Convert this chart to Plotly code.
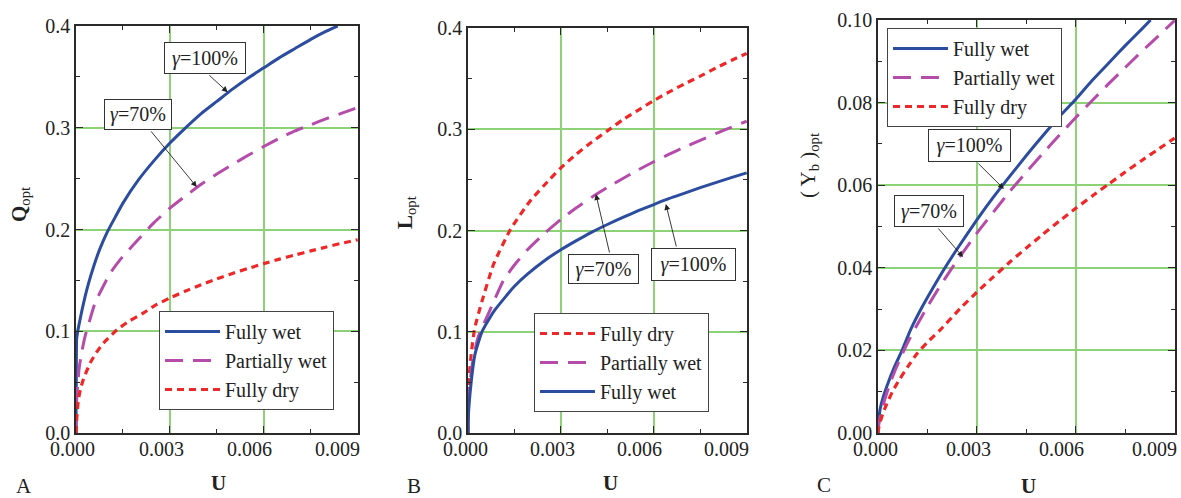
import plotly.graph_objects as go

# ---------------- data ----------------
# Panel A : Q_opt vs U
A_wet_U = [0, 0.00001, 0.00002, 0.00005, 0.000106, 0.0002, 0.00029, 0.0004, 0.000556, 0.00075, 0.00099,
           0.00125, 0.0015, 0.002, 0.0025, 0.003, 0.0035, 0.004, 0.0045, 0.005, 0.0055, 0.006, 0.0065,
           0.007, 0.0075, 0.008, 0.00836]
A_wet_Q = [0, 0.06, 0.092, 0.099, 0.108, 0.122, 0.134, 0.147, 0.163, 0.18, 0.197,
           0.212, 0.226, 0.249, 0.268, 0.285, 0.300, 0.314, 0.326, 0.338, 0.349, 0.359, 0.369,
           0.378, 0.387, 0.395, 0.4]
A_part_U = [0, 0.000005, 0.00002, 0.00005, 0.000106, 0.0002, 0.00029, 0.00045, 0.00061, 0.00085, 0.00109,
            0.0014, 0.00179, 0.0025, 0.003, 0.0035, 0.004, 0.0045, 0.005, 0.0055, 0.006, 0.0065,
            0.007, 0.0075, 0.008, 0.0085, 0.009]
A_part_Q = [0, 0.013, 0.0325, 0.046, 0.065, 0.082, 0.095, 0.112, 0.128, 0.143, 0.157,
            0.17, 0.1835, 0.207, 0.221, 0.233, 0.2445, 0.2545, 0.264, 0.273, 0.2816, 0.2897,
            0.297, 0.303, 0.309, 0.3145, 0.32]
A_dry_U = [0, 0.000005, 0.00002, 0.000074, 0.00015, 0.00023, 0.00045, 0.00065, 0.00088, 0.00131, 0.0017,
           0.00216, 0.0025, 0.003, 0.0035, 0.004, 0.0045, 0.005, 0.0055, 0.006, 0.0065, 0.007,
           0.0075, 0.008, 0.0085, 0.009]
A_dry_Q = [0, 0.005, 0.0128, 0.0325, 0.044, 0.0522, 0.0687, 0.079, 0.0884, 0.1015, 0.11,
           0.118, 0.125, 0.1327, 0.1396, 0.1457, 0.1515, 0.1569, 0.1618, 0.1665, 0.1709, 0.175,
           0.179, 0.1829, 0.1866, 0.19]

# Panel B : L_opt vs U
B_dry_U = [0, 0.000005, 0.00003, 0.00011, 0.00022, 0.00045, 0.00083, 0.00137, 0.002, 0.00262, 0.003,
           0.0035, 0.004, 0.0045, 0.005, 0.0055, 0.006, 0.0065, 0.007, 0.0075, 0.008, 0.0085, 0.009]
B_dry_L = [0, 0.03, 0.0524, 0.08, 0.104, 0.13, 0.167, 0.201, 0.229, 0.25, 0.262,
           0.2755, 0.2875, 0.2985, 0.3095, 0.319, 0.3285, 0.337, 0.345, 0.3525, 0.3605, 0.368, 0.375]
B_part_U = [0, 0.000005, 0.00001, 0.00005, 0.00016, 0.00033, 0.00071, 0.00115, 0.0015, 0.00192, 0.0025,
            0.003, 0.0035, 0.004, 0.0045, 0.005, 0.0055, 0.006, 0.0065, 0.007, 0.0075, 0.008, 0.0085, 0.009]
B_part_L = [0, 0.016, 0.026, 0.046, 0.072, 0.095, 0.1215, 0.151, 0.166, 0.181, 0.198,
            0.211, 0.2225, 0.233, 0.2425, 0.2515, 0.26, 0.268, 0.2755, 0.2825, 0.289, 0.2957, 0.302, 0.308]
B_wet_U = [0, 0.00001, 0.00003, 0.00011, 0.00022, 0.00045, 0.00083, 0.00125, 0.0015, 0.00192, 0.0025,
           0.003, 0.0035, 0.004, 0.0045, 0.005, 0.0055, 0.006, 0.0065, 0.007, 0.0075, 0.008, 0.0085, 0.009]
B_wet_L = [0, 0.015, 0.026, 0.0524, 0.077, 0.1, 0.12, 0.136, 0.145, 0.157, 0.171,
           0.181, 0.19, 0.1985, 0.206, 0.213, 0.2196, 0.2257, 0.2317, 0.237, 0.2424, 0.2474, 0.2523, 0.257]

# Panel C : (Y_b)_opt vs U
C_wet_U = [0, 0.00002, 0.00006, 0.00015, 0.0003, 0.0005, 0.00073, 0.001, 0.00135, 0.00167, 0.002, 0.00242,
           0.003, 0.0035, 0.004, 0.0045, 0.005, 0.0055, 0.006, 0.0065, 0.007, 0.0075, 0.008, 0.00827]
C_wet_Y = [0, 0.0025, 0.0056, 0.0085, 0.012, 0.016, 0.020, 0.0252, 0.0307, 0.0352, 0.0396, 0.0448,
           0.0516, 0.0571, 0.0622, 0.0672, 0.072, 0.0766, 0.0808, 0.0854, 0.0896, 0.0938, 0.0978, 0.1]
C_part_U = [0, 0.00002, 0.00006, 0.0002, 0.0004, 0.00064, 0.0009, 0.00118, 0.0015, 0.00179, 0.002, 0.00242,
            0.003, 0.0035, 0.004, 0.0045, 0.005, 0.0055, 0.006, 0.0065, 0.007, 0.0075, 0.008, 0.0085, 0.009]
C_part_Y = [0, 0.0018, 0.0037, 0.008, 0.0128, 0.0174, 0.0219, 0.0261, 0.0306, 0.0344, 0.037, 0.042,
            0.0484, 0.0535, 0.0585, 0.0632, 0.0677, 0.0721, 0.0764, 0.0805, 0.0846, 0.0885, 0.0924, 0.0961, 0.0999]
C_dry_U = [0, 0.00002, 0.00006, 0.00015, 0.00027, 0.00045, 0.00067, 0.0009, 0.00118, 0.0015, 0.00188, 0.0025,
           0.003, 0.0035, 0.004, 0.0045, 0.005, 0.0055, 0.006, 0.0065, 0.007, 0.0075, 0.008, 0.0085, 0.009]
C_dry_Y = [0, 0.0012, 0.0025, 0.0048, 0.0071, 0.0102, 0.0132, 0.016, 0.0192, 0.022, 0.0249, 0.0302,
           0.0341, 0.0378, 0.0414, 0.0448, 0.0481, 0.0513, 0.0544, 0.0574, 0.0603, 0.0632, 0.066, 0.0687, 0.0714]

x_ticks = [0.0, 0.003, 0.006, 0.009]
x_tick_text = ["0.000", "0.003", "0.006", "0.009"]

# ---------------- style ----------------
FONT = "Liberation Serif"
BLUE = "#2b4c9f"
MAG = "#b54ca9"
RED = "#ee2828"
GRID = "#8ed277"
AXC = "#2a2a2a"

styles = {
    "Fully wet": dict(color=BLUE, width=3, dash="solid"),
    "Partially wet": dict(color=MAG, width=3, dash="18px,10px"),
    "Fully dry": dict(color=RED, width=3.2, dash="7px,5px"),
}

fig = go.Figure()

def add(name, xs, ys, xa, ya, legend):
    fig.add_trace(go.Scatter(
        x=xs, y=ys, mode="lines", name=name,
        line=dict(shape="spline", smoothing=0.5, **styles[name]),
        xaxis=xa, yaxis=ya, legend=legend, showlegend=True,
    ))

add("Fully wet", A_wet_U, A_wet_Q, "x", "y", "legend")
add("Partially wet", A_part_U, A_part_Q, "x", "y", "legend")
add("Fully dry", A_dry_U, A_dry_Q, "x", "y", "legend")

add("Fully dry", B_dry_U, B_dry_L, "x2", "y2", "legend2")
add("Partially wet", B_part_U, B_part_L, "x2", "y2", "legend2")
add("Fully wet", B_wet_U, B_wet_L, "x2", "y2", "legend2")

add("Fully wet", C_wet_U, C_wet_Y, "x3", "y3", "legend3")
add("Partially wet", C_part_U, C_part_Y, "x3", "y3", "legend3")
add("Fully dry", C_dry_U, C_dry_Y, "x3", "y3", "legend3")

W, H = 1181, 498
def px_x(p): return p / W
def px_y(p): return 1 - p / H

tickfont = dict(family=FONT, size=20, color="#222")

def xaxis(domain, anchor):
    return dict(domain=domain, anchor=anchor, range=[0, 0.00901], automargin=False,
                tickvals=x_ticks, showticklabels=False,
                showline=True, linecolor=AXC, linewidth=1.5, mirror="allticks",
                ticks="inside", ticklen=7, tickwidth=1.2, tickcolor=AXC,
                minor=dict(ticks="inside", ticklen=4, tickwidth=1.2, tickcolor=AXC, dtick=0.0015, showgrid=False),
                showgrid=True, gridcolor=GRID, gridwidth=1.8, zeroline=False, fixedrange=True)

def yaxis(domain, anchor, rng, dtick, fmt):
    return dict(domain=domain, anchor=anchor, range=rng, dtick=dtick, tick0=0, tickformat=fmt,
                automargin=False,
                showline=True, linecolor=AXC, linewidth=1.5, mirror="allticks",
                ticks="inside", ticklen=7, tickwidth=1.2, tickcolor=AXC,
                minor=dict(ticks="inside", ticklen=4, tickwidth=1.2, tickcolor=AXC, dtick=dtick / 2, showgrid=False),
                showgrid=True, gridcolor=GRID, gridwidth=1.8, zeroline=False,
                tickfont=tickfont, fixedrange=True)

legend_common = dict(font=dict(family=FONT, size=20, color="#222"), bgcolor="white",
                     bordercolor="#444", borderwidth=1, xanchor="left", yanchor="top",
                     itemwidth=55, tracegroupgap=0)

fig.update_layout(
    width=W, height=H, margin=dict(l=0, r=0, t=0, b=0, autoexpand=False),
    paper_bgcolor="white", plot_bgcolor="white",
    xaxis=xaxis([px_x(76), px_x(358)], "y"),
    yaxis=yaxis([px_y(433), px_y(26)], "x", [0, 0.4001], 0.1, ".1f"),
    xaxis2=xaxis([px_x(468), px_x(747)], "y2"),
    yaxis2=yaxis([px_y(433), px_y(28)], "x2", [0, 0.4001], 0.1, ".1f"),
    xaxis3=xaxis([px_x(878), px_x(1175)], "y3"),
    yaxis3=yaxis([px_y(433), px_y(20)], "x3", [0, 0.10001], 0.02, ".2f"),
    legend=dict(x=px_x(159), y=px_y(311), **legend_common),
    legend2=dict(x=px_x(534), y=px_y(313), **legend_common),
    legend3=dict(x=px_x(887), y=px_y(28), **legend_common),
    showlegend=True,
)

anns = []
# x tick labels (in the reference they sit progressively left of their ticks)
for xr in ["x", "x2", "x3"]:
    for i, (v, t) in enumerate(zip(x_ticks, x_tick_text)):
        anns.append(dict(text=t, x=v, xref=xr, y=px_y(449), yref="paper", showarrow=False,
                         xanchor="center", yanchor="middle", xshift=-(3 + i * 5.7), font=tickfont))

lab_font = dict(family=FONT, size=21, color="#222")
# axis titles and panel letters
for txt, x, y, ang in [
    ("<b>Q</b><sub>opt</sub>", 20, 205, -90),
    ("<b>L</b><sub>opt</sub>", 406, 213, -90),
    ("( Y<sub>b</sub> )<sub>opt</sub>", 809, 166, -90),
    ("<b>U</b>", 218, 483, 0),
    ("<b>U</b>", 610, 483, 0),
    ("<b>U</b>", 1028, 486, 0),
    ("A", 24, 486, 0),
    ("B", 414, 486, 0),
    ("C", 824, 485, 0),
]:
    anns.append(dict(text=txt, x=px_x(x), y=px_y(y), xref="paper", yref="paper",
                     showarrow=False, textangle=ang, font=lab_font,
                     xanchor="center", yanchor="middle"))

box_font = dict(family=FONT, size=20, color="#222")
# boxed labels: (text, xaxis, yaxis, cx, cy, w, h)
boxes = [
    ("<i>γ</i>=100%", "x", "y", 0.00413, 0.3686, 76, 26),
    ("<i>γ</i>=70%", "x", "y", 0.00199, 0.313, 62, 25),
    ("<i>γ</i>=70%", "x2", "y2", 0.00439, 0.162, 65, 24),
    ("<i>γ</i>=100%", "x2", "y2", 0.00729, 0.1664, 79, 27),
    ("<i>γ</i>=100%", "x3", "y3", 0.00279, 0.0696, 77, 27),
    ("<i>γ</i>=70%", "x3", "y3", 0.00156, 0.0538, 64, 26),
]
for txt, xr, yr, cx, cy, w, h in boxes:
    anns.append(dict(text=txt, x=cx, y=cy, xref=xr, yref=yr, showarrow=False,
                     font=box_font, bgcolor="white", bordercolor="#333", borderwidth=1,
                     borderpad=2, width=w, height=h, xanchor="center", yanchor="middle"))

# arrows: (xaxis, yaxis, tail_x, tail_y, tip_x, tip_y)
arrows = [
    ("x", "y", 0.00421, 0.353, 0.00485, 0.335),
    ("x", "y", 0.00236, 0.298, 0.00386, 0.2418),
    ("x2", "y2", 0.00458, 0.1768, 0.00413, 0.236),
    ("x2", "y2", 0.00674, 0.1827, 0.00639, 0.2262),
    ("x3", "y3", 0.0030, 0.0656, 0.00382, 0.0591),
    ("x3", "y3", 0.00179, 0.0499, 0.00258, 0.0426),
]
for xr, yr, tx, ty, hx, hy in arrows:
    anns.append(dict(text="", x=hx, y=hy, xref=xr, yref=yr, ax=tx, ay=ty,
                     axref=xr, ayref=yr, showarrow=True, arrowhead=2, arrowsize=1.3,
                     arrowwidth=0.9, arrowcolor="#222", standoff=0, startstandoff=0))

fig.update_layout(annotations=anns)
fig.write_html("out.html", config={"displayModeBar": False},
               post_script="document.body.style.margin='0px';")
